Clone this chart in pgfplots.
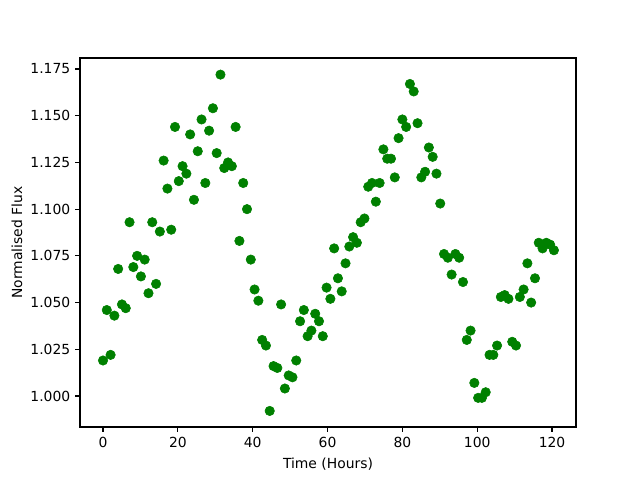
\documentclass[border=0pt]{standalone}
\usepackage{pgfplots}
\pgfplotsset{compat=1.18}
\usepackage{fontspec}
\setmainfont{DejaVu Sans}
\definecolor{mplgreen}{rgb}{0,0.5,0}
\begin{document}
\begin{tikzpicture}
\path[use as bounding box] (-57.6pt,-38.16pt) rectangle (403.2pt,307.44pt);
\begin{axis}[
  at={(0,0)}, anchor=south west,
  scale only axis, width=357.12pt, height=265.68pt,
  xmin=-6.15, xmax=126.4, ymin=0.9834, ymax=1.1809,
  xtick={0,20,...,120},
  ytick={1.000,1.025,1.050,1.075,1.100,1.125,1.150,1.175},
  yticklabel style={/pgf/number format/.cd, fixed, fixed zerofill, precision=3},
  /pgf/number format/assume math mode=true,
  tick align=outside, tick pos=left,
  major tick length=3.5pt,
  tick style={black, line width=0.8pt},
  axis line style={line width=0.8pt},
  font=\fontsize{10pt}{12pt}\selectfont,
  ticklabel style={font=\fontsize{10pt}{12pt}\selectfont},
  xlabel={Time (Hours)}, ylabel={Normalised Flux},
  xlabel style={yshift=-1pt},
  ylabel style={yshift=-1pt},
  scaled y ticks=false,
]
\addplot[only marks, mark=*, mark size=3.4pt, mark options={fill=mplgreen, draw=mplgreen, line width=0.4pt}] coordinates {
(0,1.019)(1.01,1.046)(2.03,1.022)(3.04,1.043)(4.05,1.068)(5.06,1.049)(6.08,1.047)(7.09,1.093)(8.10,1.069)(9.11,1.075)
(10.13,1.064)(11.14,1.073)(12.15,1.055)(13.16,1.093)(14.18,1.060)(15.19,1.088)(16.20,1.126)(17.21,1.111)(18.23,1.089)(19.24,1.144)
(20.25,1.115)(21.26,1.123)(22.28,1.119)(23.29,1.140)(24.30,1.105)(25.32,1.131)(26.33,1.148)(27.34,1.114)(28.35,1.142)(29.37,1.154)
(30.38,1.130)(31.39,1.172)(32.40,1.122)(33.42,1.125)(34.43,1.123)(35.44,1.144)(36.45,1.083)(37.47,1.114)(38.48,1.100)(39.49,1.073)
(40.50,1.057)(41.52,1.051)(42.53,1.030)(43.54,1.027)(44.55,0.992)(45.57,1.016)(46.58,1.015)(47.59,1.049)(48.60,1.004)(49.62,1.011)
(50.63,1.010)(51.64,1.019)(52.66,1.040)(53.67,1.046)(54.68,1.032)(55.69,1.035)(56.71,1.044)(57.72,1.040)(58.73,1.032)(59.74,1.058)
(60.76,1.052)(61.77,1.079)(62.78,1.063)(63.79,1.056)(64.81,1.071)(65.82,1.080)(66.83,1.085)(67.84,1.082)(68.86,1.093)(69.87,1.095)
(70.88,1.112)(71.89,1.114)(72.91,1.104)(73.92,1.114)(74.93,1.132)(75.95,1.127)(76.96,1.127)(77.97,1.117)(78.98,1.138)(80.00,1.148)
(81.01,1.144)(82.02,1.167)(83.03,1.163)(84.05,1.146)(85.06,1.117)(86.07,1.120)(87.08,1.133)(88.10,1.128)(89.11,1.119)(90.12,1.103)
(91.13,1.076)(92.15,1.074)(93.16,1.065)(94.17,1.076)(95.18,1.074)(96.20,1.061)(97.21,1.030)(98.22,1.035)(99.23,1.007)(100.25,0.999)
(101.26,0.999)(102.27,1.002)(103.29,1.022)(104.30,1.022)(105.31,1.027)(106.32,1.053)(107.34,1.054)(108.35,1.052)(109.36,1.029)(110.37,1.027)
(111.39,1.053)(112.40,1.057)(113.41,1.071)(114.42,1.050)(115.44,1.063)(116.45,1.082)(117.46,1.079)(118.47,1.082)(119.49,1.081)(120.50,1.078)
};
\end{axis}
\end{tikzpicture}
\end{document}
